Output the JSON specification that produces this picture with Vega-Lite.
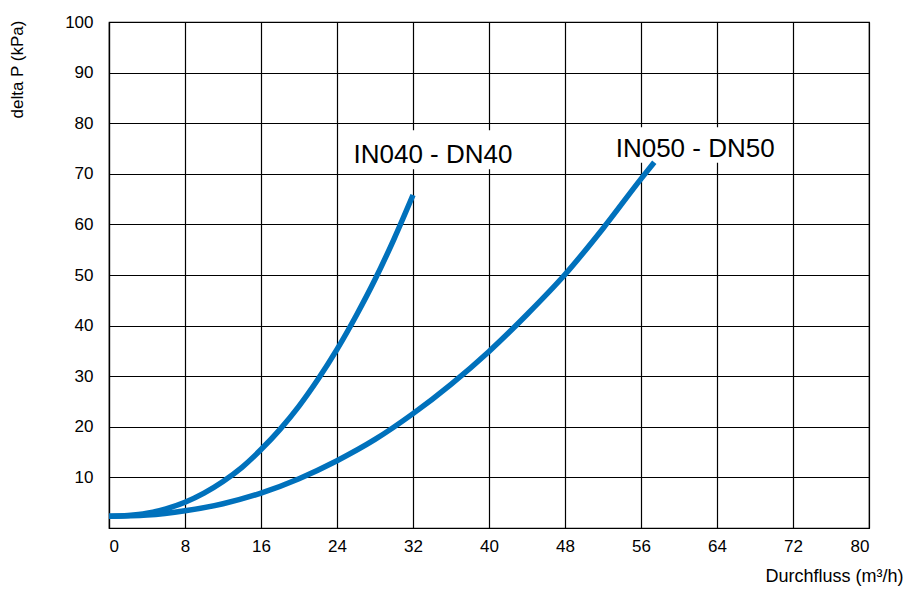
{
  "$schema": "https://vega.github.io/schema/vega-lite/v6.json",
  "width": 760,
  "height": 506,
  "autosize": {"type": "none"},
  "padding": {"left": 109, "top": 22, "right": 39, "bottom": 61},
  "background": "white",
  "config": {
    "view": {"stroke": "black", "strokeWidth": 1.2},
    "font": "Liberation Sans",
    "axis": {
      "labelFont": "Liberation Sans",
      "titleFont": "Liberation Sans",
      "labelColor": "black",
      "titleColor": "black",
      "titleFontWeight": "normal",
      "gridColor": "black",
      "gridWidth": 1.2,
      "gridOpacity": 1,
      "domainColor": "black",
      "domainWidth": 1.2,
      "ticks": false
    }
  },
  "datasets": {
    "curves": [
      {"series": "IN040 - DN40", "q": 0, "dp": 2.3},
      {"series": "IN040 - DN40", "q": 2, "dp": 2.45},
      {"series": "IN040 - DN40", "q": 4, "dp": 2.9},
      {"series": "IN040 - DN40", "q": 6, "dp": 3.8},
      {"series": "IN040 - DN40", "q": 8, "dp": 5.1},
      {"series": "IN040 - DN40", "q": 10, "dp": 6.9},
      {"series": "IN040 - DN40", "q": 12, "dp": 9.2},
      {"series": "IN040 - DN40", "q": 14, "dp": 12.0},
      {"series": "IN040 - DN40", "q": 16, "dp": 15.5},
      {"series": "IN040 - DN40", "q": 18, "dp": 19.5},
      {"series": "IN040 - DN40", "q": 20, "dp": 24.1},
      {"series": "IN040 - DN40", "q": 22, "dp": 29.4},
      {"series": "IN040 - DN40", "q": 24, "dp": 35.3},
      {"series": "IN040 - DN40", "q": 26, "dp": 41.9},
      {"series": "IN040 - DN40", "q": 28, "dp": 49.1},
      {"series": "IN040 - DN40", "q": 30, "dp": 57.1},
      {"series": "IN040 - DN40", "q": 32, "dp": 65.8},
      {"series": "IN050 - DN50", "q": 0, "dp": 2.3},
      {"series": "IN050 - DN50", "q": 4, "dp": 2.55},
      {"series": "IN050 - DN50", "q": 8, "dp": 3.4},
      {"series": "IN050 - DN50", "q": 12, "dp": 4.8},
      {"series": "IN050 - DN50", "q": 16, "dp": 6.9},
      {"series": "IN050 - DN50", "q": 20, "dp": 9.75},
      {"series": "IN050 - DN50", "q": 24, "dp": 13.3},
      {"series": "IN050 - DN50", "q": 28, "dp": 17.5},
      {"series": "IN050 - DN50", "q": 32, "dp": 22.6},
      {"series": "IN050 - DN50", "q": 36, "dp": 28.4},
      {"series": "IN050 - DN50", "q": 40, "dp": 34.9},
      {"series": "IN050 - DN50", "q": 44, "dp": 42.2},
      {"series": "IN050 - DN50", "q": 48, "dp": 50.1},
      {"series": "IN050 - DN50", "q": 52, "dp": 59.2},
      {"series": "IN050 - DN50", "q": 56, "dp": 69.0},
      {"series": "IN050 - DN50", "q": 57.4, "dp": 72.3}
    ],
    "labels": [
      {"text": "IN040 - DN40", "q": 34.1, "dp": 72.1, "bq0": 25.1, "bq1": 43.4, "bdp0": 70.9, "bdp1": 78.6},
      {"text": "IN050 - DN50", "q": 61.7, "dp": 73.3, "bq0": 52.5, "bq1": 70.7, "bdp0": 72.2, "bdp1": 79.2}
    ]
  },
  "layer": [
    {
      "data": {"name": "labels"},
      "mark": {"type": "rect", "fill": "white", "stroke": null},
      "encoding": {
        "x": {
          "field": "bq0", "type": "quantitative",
          "scale": {"domain": [0, 80], "nice": false, "zero": false},
          "axis": {
            "values": [0, 8, 16, 24, 32, 40, 48, 56, 64, 72, 80],
            "labelFontSize": 17,
            "labelPadding": 10,
            "grid": true,
            "title": "Durchfluss (m³/h)",
            "titleFontSize": 18,
            "titleAnchor": "end",
            "titleAlign": "right",
            "titleBaseline": "alphabetic",
            "titleX": 794,
            "titleY": 53.5
          }
        },
        "x2": {"field": "bq1"},
        "y": {
          "field": "bdp0", "type": "quantitative",
          "scale": {"domain": [0, 100], "nice": false, "zero": true},
          "axis": {
            "values": [10, 20, 30, 40, 50, 60, 70, 80, 90, 100],
            "labelFontSize": 17,
            "labelPadding": 16,
            "grid": true,
            "title": "delta P (kPa)",
            "titleFontSize": 17,
            "titleAngle": -90,
            "titleAlign": "right",
            "titleBaseline": "middle",
            "titleX": -91.5,
            "titleY": -2
          }
        },
        "y2": {"field": "bdp1"}
      }
    },
    {
      "data": {"name": "curves"},
      "mark": {"type": "line", "interpolate": "monotone", "strokeWidth": 5.5, "color": "#0071BC", "strokeCap": "butt"},
      "encoding": {
        "x": {"field": "q", "type": "quantitative"},
        "y": {"field": "dp", "type": "quantitative"},
        "detail": {"field": "series"}
      }
    },
    {
      "data": {"name": "labels"},
      "mark": {"type": "text", "fontSize": 26, "font": "Liberation Sans", "color": "black", "align": "center", "baseline": "alphabetic"},
      "encoding": {
        "x": {"field": "q", "type": "quantitative"},
        "y": {"field": "dp", "type": "quantitative"},
        "text": {"field": "text"}
      }
    }
  ]
}
